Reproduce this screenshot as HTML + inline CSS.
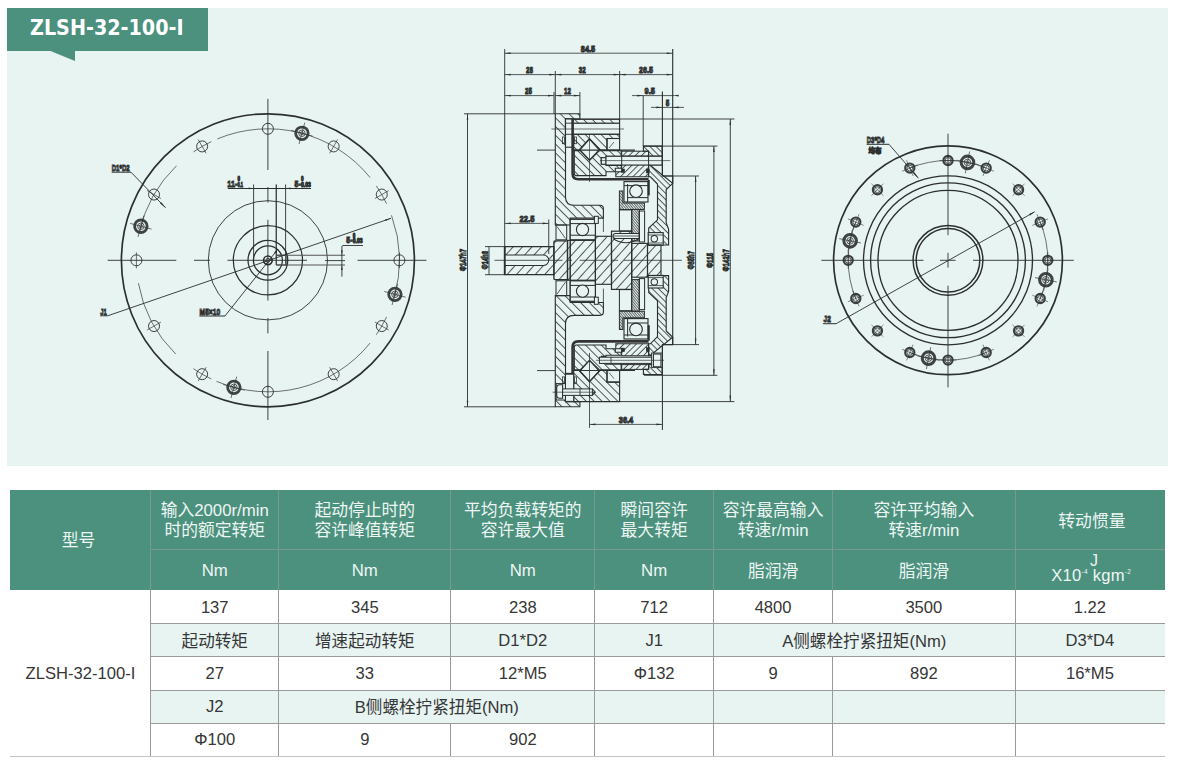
<!DOCTYPE html>
<html lang="zh">
<head>
<meta charset="utf-8">
<title>ZLSH-32-100-I</title>
<style>
html,body{margin:0;padding:0;background:#fff;}
body{width:1178px;height:768px;position:relative;overflow:hidden;font-family:"Liberation Sans","Noto Sans CJK SC",sans-serif;}
#panel{position:absolute;left:6.5px;top:8px;width:1161.5px;height:457.5px;background:#e7f4f2;}
#badge{position:absolute;left:6.5px;top:8px;width:201px;height:42.5px;background:#4b917e;}
#badge span{position:absolute;left:23.5px;top:7.4px;font-family:"DejaVu Sans Condensed","Liberation Sans",sans-serif;font-weight:bold;font-size:21.3px;line-height:26px;color:#fff;white-space:nowrap;letter-spacing:0px;}
#tail{position:absolute;left:48px;top:50px;width:0;height:0;border-top:11px solid #4b917e;border-left:27px solid transparent;}
#draw{position:absolute;left:0;top:0;width:1178px;height:768px;}
/* table */
#tbl{position:absolute;left:0;top:0;width:1178px;height:768px;font-size:16.6px;color:#363636;}
#tbl div{position:absolute;box-sizing:border-box;}
.hd{background:#4b917e;}
.c{line-height:19px;display:flex;align-items:center;justify-content:center;text-align:center;white-space:nowrap;}
.h{color:#eef6f3;line-height:20.3px;font-size:16.8px;}
.uj{position:absolute;left:75px;top:4.2px;font-size:16px;line-height:16px;}
.ux{position:absolute;left:36.3px;top:18px;font-size:16.6px;line-height:18px;white-space:nowrap;letter-spacing:0.25px;}
.ux sup{font-size:6.5px;vertical-align:7px;line-height:0;}
.mint{background:#e7f4f2;}
.vl{width:1px;background:#9a9a9a;}
.hl{height:1px;background:#9a9a9a;}
.vh{width:1px;background:#78998e;}
.hh{height:1px;background:#78998e;}
</style>
</head>
<body>
<div id="panel"></div>
<div id="badge"><span>ZLSH-32-100-I</span></div>
<div id="tail"></div>

<!--DRAWING-->
<svg id="draw" viewBox="0 0 1178 768" width="1178" height="768" fill="none" stroke="#2b2f2e" stroke-linecap="butt" font-family="'Liberation Sans',sans-serif">
<defs>
<pattern id="pa" patternUnits="userSpaceOnUse" width="6.2" height="6.2" patternTransform="rotate(45)"><line x1="0" y1="0.5" x2="6.2" y2="0.5" stroke="#2b2f2e" stroke-width="0.8"/></pattern>
<pattern id="paf" patternUnits="userSpaceOnUse" width="6.2" height="6.2" patternTransform="rotate(-45)"><line x1="0" y1="0.5" x2="6.2" y2="0.5" stroke="#2b2f2e" stroke-width="0.8"/></pattern>
<pattern id="pb" patternUnits="userSpaceOnUse" width="5.6" height="5.6" patternTransform="rotate(45)"><line x1="0" y1="0.5" x2="5.6" y2="0.5" stroke="#2b2f2e" stroke-width="0.8"/></pattern>
<pattern id="pbf" patternUnits="userSpaceOnUse" width="5.6" height="5.6" patternTransform="rotate(-45)"><line x1="0" y1="0.5" x2="5.6" y2="0.5" stroke="#2b2f2e" stroke-width="0.8"/></pattern>
<pattern id="pc" patternUnits="userSpaceOnUse" width="4.4" height="4.4" patternTransform="rotate(-45)"><line x1="0" y1="0.5" x2="4.4" y2="0.5" stroke="#2b2f2e" stroke-width="0.8"/></pattern>
<pattern id="pcf" patternUnits="userSpaceOnUse" width="4.4" height="4.4" patternTransform="rotate(45)"><line x1="0" y1="0.5" x2="4.4" y2="0.5" stroke="#2b2f2e" stroke-width="0.8"/></pattern>
<pattern id="pd" patternUnits="userSpaceOnUse" width="4.4" height="4.4" patternTransform="rotate(45)"><line x1="0" y1="0.5" x2="4.4" y2="0.5" stroke="#2b2f2e" stroke-width="0.8"/></pattern>
<pattern id="pdf" patternUnits="userSpaceOnUse" width="4.4" height="4.4" patternTransform="rotate(-45)"><line x1="0" y1="0.5" x2="4.4" y2="0.5" stroke="#2b2f2e" stroke-width="0.8"/></pattern>
<pattern id="pe" patternUnits="userSpaceOnUse" width="1.9" height="1.9" patternTransform="rotate(50)"><line x1="0" y1="0.5" x2="1.9" y2="0.5" stroke="#2b2f2e" stroke-width="0.7"/></pattern>
<pattern id="pef" patternUnits="userSpaceOnUse" width="1.9" height="1.9" patternTransform="rotate(-50)"><line x1="0" y1="0.5" x2="1.9" y2="0.5" stroke="#2b2f2e" stroke-width="0.7"/></pattern>
<pattern id="ps" patternUnits="userSpaceOnUse" width="7" height="7" patternTransform="rotate(-48)"><line x1="0" y1="0.5" x2="7" y2="0.5" stroke="#2b2f2e" stroke-width="0.8"/></pattern>
</defs>
<g id="left">
<circle cx="267.9" cy="260.3" r="146.5" stroke-width="1.68" />
<circle cx="267.9" cy="260.3" r="59.6" stroke-width="0.9" />
<circle cx="267.9" cy="260.3" r="34.6" stroke-width="1.23" />
<circle cx="267.9" cy="260.3" r="19.9" stroke-width="1.23" />
<circle cx="267.9" cy="260.3" r="14.5" stroke-width="1.23" />
<circle cx="267.9" cy="260.3" r="4.3" stroke-width="1.68" />
<circle cx="267.9" cy="260.3" r="2" stroke-width="0.9" />
<path d="M370.09 177.54A131.5 131.5 0 0 0 217.37 138.9" stroke-width="0.67"/>
<path d="M386.59 203.69A131.5 131.5 0 0 0 376.27 185.82" stroke-width="0.67"/>
<path d="M393.65 298.75A131.5 131.5 0 0 0 391.47 215.32" stroke-width="0.67"/>
<path d="M376.27 334.78A131.5 131.5 0 0 0 386.59 316.91" stroke-width="0.67"/>
<path d="M216.52 381.35A131.5 131.5 0 0 0 370.09 343.06" stroke-width="0.67"/>
<path d="M193.42 368.67A131.5 131.5 0 0 0 211.29 378.99" stroke-width="0.67"/>
<path d="M138.4 283.13A131.5 131.5 0 0 0 175.73 354.09" stroke-width="0.67"/>
<path d="M176.55 165.71A131.5 131.5 0 0 0 139.52 231.84" stroke-width="0.67"/>
<path d="M211.29 141.61A131.5 131.5 0 0 0 193.42 151.93" stroke-width="0.67"/>
<circle cx="399.4" cy="260.3" r="5.5" stroke-width="0.9" />
<line x1="399.4" y1="252.3" x2="399.4" y2="268.3" stroke-width="0.67" />
<circle cx="381.78" cy="194.55" r="5.5" stroke-width="0.9" />
<line x1="374.85" y1="198.55" x2="388.71" y2="190.55" stroke-width="0.67" />
<circle cx="333.65" cy="146.42" r="5.5" stroke-width="0.9" />
<line x1="329.65" y1="153.35" x2="337.65" y2="139.49" stroke-width="0.67" />
<circle cx="267.9" cy="128.8" r="5.5" stroke-width="0.9" />
<circle cx="202.15" cy="146.42" r="5.5" stroke-width="0.9" />
<line x1="206.15" y1="153.35" x2="198.15" y2="139.49" stroke-width="0.67" />
<circle cx="154.02" cy="194.55" r="5.5" stroke-width="0.9" />
<line x1="160.95" y1="198.55" x2="147.09" y2="190.55" stroke-width="0.67" />
<circle cx="136.4" cy="260.3" r="5.5" stroke-width="0.9" />
<line x1="136.4" y1="252.3" x2="136.4" y2="268.3" stroke-width="0.67" />
<circle cx="154.02" cy="326.05" r="5.5" stroke-width="0.9" />
<line x1="160.95" y1="322.05" x2="147.09" y2="330.05" stroke-width="0.67" />
<circle cx="202.15" cy="374.18" r="5.5" stroke-width="0.9" />
<line x1="206.15" y1="367.25" x2="198.15" y2="381.11" stroke-width="0.67" />
<circle cx="267.9" cy="391.8" r="5.5" stroke-width="0.9" />
<circle cx="333.65" cy="374.18" r="5.5" stroke-width="0.9" />
<line x1="329.65" y1="367.25" x2="337.65" y2="381.11" stroke-width="0.67" />
<circle cx="381.78" cy="326.05" r="5.5" stroke-width="0.9" />
<line x1="374.85" y1="322.05" x2="388.71" y2="330.05" stroke-width="0.67" />
<circle cx="301.93" cy="133.28" r="6.25" stroke-width="2.8" stroke="#3f4342"/>
<circle cx="301.93" cy="133.28" r="3.25" stroke-width="0.78" />
<circle cx="301.93" cy="133.28" r="1.6" stroke-width="0.67" />
<line x1="304.79" y1="122.61" x2="299.07" y2="143.95" stroke-width="0.67" />
<line x1="291.26" y1="130.42" x2="312.61" y2="136.14" stroke-width="0.67" />
<circle cx="140.88" cy="226.27" r="6.25" stroke-width="2.8" stroke="#3f4342"/>
<circle cx="140.88" cy="226.27" r="3.25" stroke-width="0.78" />
<circle cx="140.88" cy="226.27" r="1.6" stroke-width="0.67" />
<line x1="130.21" y1="223.41" x2="151.55" y2="229.13" stroke-width="0.67" />
<line x1="138.02" y1="236.94" x2="143.74" y2="215.59" stroke-width="0.67" />
<circle cx="233.87" cy="387.32" r="6.25" stroke-width="2.8" stroke="#3f4342"/>
<circle cx="233.87" cy="387.32" r="3.25" stroke-width="0.78" />
<circle cx="233.87" cy="387.32" r="1.6" stroke-width="0.67" />
<line x1="231.01" y1="397.99" x2="236.73" y2="376.65" stroke-width="0.67" />
<line x1="244.54" y1="390.18" x2="223.19" y2="384.46" stroke-width="0.67" />
<circle cx="394.92" cy="294.33" r="6.25" stroke-width="2.8" stroke="#3f4342"/>
<circle cx="394.92" cy="294.33" r="3.25" stroke-width="0.78" />
<circle cx="394.92" cy="294.33" r="1.6" stroke-width="0.67" />
<line x1="405.59" y1="297.19" x2="384.25" y2="291.47" stroke-width="0.67" />
<line x1="397.78" y1="283.66" x2="392.06" y2="305.01" stroke-width="0.67" />
<line x1="107.7" y1="260.3" x2="176.3" y2="260.3" stroke-width="0.9" />
<line x1="194" y1="260.3" x2="210" y2="260.3" stroke-width="0.9" />
<line x1="227.5" y1="260.3" x2="307" y2="260.3" stroke-width="0.9" />
<line x1="357.5" y1="260.3" x2="426.4" y2="260.3" stroke-width="0.9" />
<line x1="267.9" y1="98.9" x2="267.9" y2="170" stroke-width="0.9" />
<line x1="267.9" y1="187" x2="267.9" y2="202.5" stroke-width="0.9" />
<line x1="267.9" y1="219.8" x2="267.9" y2="300.6" stroke-width="0.9" />
<line x1="267.9" y1="318" x2="267.9" y2="333.4" stroke-width="0.9" />
<line x1="267.9" y1="351" x2="267.9" y2="420" stroke-width="0.9" />
<line x1="227.8" y1="188.4" x2="311" y2="188.4" stroke-width="1.01" />
<line x1="253.6" y1="184.5" x2="253.6" y2="260.3" stroke-width="0.9" />
<line x1="276.25" y1="184.5" x2="276.25" y2="265" stroke-width="1.23" />
<line x1="285.6" y1="184.5" x2="285.6" y2="265" stroke-width="0.9" />
<path d="M253.6 188.4L248.6 189.2L248.6 187.6Z" fill="#2b2f2e" stroke="none"/>
<path d="M285.6 188.4L290.6 187.6L290.6 189.2Z" fill="#2b2f2e" stroke="none"/>
<path d="M276.25 255.3H287V265H276.25" stroke-width="1.1"/>
<line x1="276.25" y1="255.3" x2="345" y2="255.3" stroke-width="1.12" stroke="#555"/>
<line x1="276.25" y1="265" x2="345" y2="265" stroke-width="1.12" stroke="#555"/>
<line x1="325" y1="260.6" x2="345" y2="260.6" stroke-width="0.9" />
<line x1="341.9" y1="246.25" x2="341.9" y2="276.7" stroke-width="0.9" />
<path d="M341.9 255.3L341.1 250.3L342.7 250.3Z" fill="#2b2f2e" stroke="none"/>
<path d="M341.9 265L342.7 270L341.1 270Z" fill="#2b2f2e" stroke="none"/>
<path d="M341.9 246.25L343 245.5H363" stroke-width="0.9"/>
<text x="227.3" y="186.6" font-size="9.2" text-anchor="start" textLength="10" lengthAdjust="spacingAndGlyphs" font-weight="bold" >11-</text>
<text x="237.5" y="181.2" font-size="7" text-anchor="start" textLength="2.6" lengthAdjust="spacingAndGlyphs" font-weight="bold" >0</text>
<text x="237.5" y="186.6" font-size="7" text-anchor="start" textLength="5.6" lengthAdjust="spacingAndGlyphs" font-weight="bold" >0.1</text>
<text x="294.5" y="186.6" font-size="9.2" text-anchor="start" textLength="6.2" lengthAdjust="spacingAndGlyphs" font-weight="bold" >5-</text>
<text x="300.9" y="181.2" font-size="7" text-anchor="start" textLength="2.6" lengthAdjust="spacingAndGlyphs" font-weight="bold" >0</text>
<text x="300.9" y="186.6" font-size="7" text-anchor="start" textLength="10" lengthAdjust="spacingAndGlyphs" font-weight="bold" >0.03</text>
<text x="346.3" y="243.3" font-size="9.2" text-anchor="start" textLength="6.2" lengthAdjust="spacingAndGlyphs" font-weight="bold" >5-</text>
<text x="352.7" y="237.9" font-size="7" text-anchor="start" textLength="2.6" lengthAdjust="spacingAndGlyphs" font-weight="bold" >0</text>
<text x="352.7" y="243.3" font-size="7" text-anchor="start" textLength="10" lengthAdjust="spacingAndGlyphs" font-weight="bold" >0.03</text>
<line x1="391" y1="218.3" x2="107.7" y2="315.8" stroke-width="0.9" />
<path d="M391 218.3L385.62 221.1L385.03 219.4Z" fill="#2b2f2e" stroke="none"/>
<line x1="100" y1="315.8" x2="107.7" y2="315.8" stroke-width="0.9" />
<text x="100.3" y="314.6" font-size="9.2" text-anchor="start" textLength="6.6" lengthAdjust="spacingAndGlyphs" font-weight="bold" >J1</text>
<line x1="111.7" y1="172.2" x2="131" y2="172.2" stroke-width="1.01" />
<line x1="131" y1="172.2" x2="165.6" y2="207.8" stroke-width="0.9" />
<path d="M165.6 207.8L160.08 203.41L161.37 202.15Z" fill="#2b2f2e" stroke="none"/>
<text x="111.7" y="170.8" font-size="9.2" text-anchor="start" textLength="18" lengthAdjust="spacingAndGlyphs" font-weight="bold" >D1*D2</text>
<line x1="278" y1="249" x2="225" y2="316" stroke-width="0.9" />
<path d="M278 249L275.6 253.48L274.19 252.36Z" fill="#2b2f2e" stroke="none"/>
<line x1="199.4" y1="316" x2="225" y2="316" stroke-width="1.01" />
<text x="199.6" y="314.7" font-size="9.2" text-anchor="start" textLength="20.5" lengthAdjust="spacingAndGlyphs" font-weight="bold" >M5×10</text>
</g>
<g id="mid">
<g id="up">
<path d="M555.3 113.8H579.9V119H565.5V197Q565.5 205.2 574 205.2H600Q603.4 205.2 603.4 208.5V218.1H570.2V225H555.3Z" stroke-width="1.12" fill="url(#pa)" />
<line x1="603.4" y1="218.1" x2="603.4" y2="232" stroke-width="0.78" />
<rect x="556" y="225" width="10.7" height="14.8" stroke-width="1.01" fill="none" />
<line x1="557" y1="226.5" x2="565.5" y2="238.5" stroke-width="0.78" />
<line x1="570.2" y1="225" x2="570.2" y2="239.8" stroke-width="1.01" />
<rect x="570.2" y="219.3" width="25.2" height="20.5" stroke-width="1.23" fill="#e7f4f2" />
<line x1="570.2" y1="223.6" x2="595.4" y2="223.6" stroke-width="1.01" />
<line x1="570.2" y1="235.2" x2="595.4" y2="235.2" stroke-width="1.01" />
<circle cx="582.5" cy="229.5" r="6.1" stroke-width="1.12" fill="#e7f4f2"/>
<rect x="594.4" y="216.3" width="3.9" height="7.1" stroke-width="1.01" fill="#e7f4f2" />
<rect x="565.5" y="119" width="54.1" height="15.3" stroke-width="1.12" fill="none" />
<rect x="572.9" y="119.4" width="46.7" height="3.8" stroke-width="0.78" fill="url(#pa)" />
<line x1="572.9" y1="123.2" x2="619.6" y2="123.2" stroke-width="0.9" />
<path d="M573.7 134.3H619.6V138.5H607V150.1H599.5L589.5 139.2L579.6 150.1H573.7Z" stroke-width="1.12" fill="url(#pb)" />
<rect x="565.5" y="119" width="7.4" height="28.2" stroke-width="1.12" fill="#e7f4f2" />
<rect x="562.6" y="137" width="1.8" height="6.7" stroke-width="0.78" fill="none" />
<rect x="574.3" y="137" width="2.1" height="6.7" stroke-width="0.78" fill="none" />
<rect x="607" y="138.5" width="12.6" height="11.6" stroke-width="1.12" fill="none" />
<line x1="609" y1="148" x2="614" y2="142" stroke-width="0.67" />
<path d="M589.5 138.6L599.5 149.3L589.5 160.1L579.6 149.3Z" stroke-width="1.01" fill="none" />
<line x1="573" y1="150.1" x2="635" y2="150.1" stroke-width="1.12" />
<path d="M574.3 150.7H580.2L589.5 160.4L599.5 150.7H621.2V156.3H606V157.7H601.3V164.2H606V165.4H621.2V168.3H615.3V171.8H606V175.6H576.5Q574.3 175.6 574.3 173.4Z" stroke-width="1.12" fill="url(#pb)" />
<path d="M572.6 119V173.5Q572.6 179.2 578.3 179.2H648.6" stroke-width="2.58" fill="none" stroke="#333"/>
<rect x="621.7" y="151.2" width="26.9" height="4.8" stroke-width="1.01" fill="url(#pc)" />
<path d="M621.7 164.8H648.6V176.8H615.8V171.8H621.7Z" stroke-width="1.01" fill="url(#pc)" />
<rect x="621.7" y="169" width="2.9" height="3.5" stroke-width="0.56" fill="#2b2f2e" />
<rect x="646.3" y="169" width="2.9" height="4" stroke-width="0.56" fill="#2b2f2e" />
<rect x="624" y="181.6" width="24" height="20.4" stroke-width="1.12" fill="#e7f4f2" />
<line x1="624" y1="185.6" x2="648" y2="185.6" stroke-width="1.01" />
<line x1="627.6" y1="197.6" x2="648" y2="197.6" stroke-width="1.01" />
<line x1="627.6" y1="184" x2="627.6" y2="202" stroke-width="1.01" />
<circle cx="636" cy="191.2" r="6.3" stroke-width="1.12" fill="#e7f4f2"/>
<line x1="648.7" y1="180" x2="648.7" y2="195.4" stroke-width="2.13" />
<path d="M619.4 191H622.9V202.9H644.4V209.4H619.4Z" stroke-width="1.01" fill="url(#pe)" />
<rect x="631.7" y="209.4" width="7.6" height="31.6" stroke-width="1.01" fill="url(#pe)" />
<rect x="619.4" y="209.9" width="12.3" height="21.1" stroke-width="1.01" fill="none" />
<rect x="639.3" y="211" width="5.3" height="31" stroke-width="1.01" fill="none" />
<path d="M648.6 165H650L672.7 183.3L666.2 189.6V223L668.6 229.2V245H648.7V228L657.5 219.8V184L650.4 176.8H648.6Z" stroke-width="1.12" fill="url(#pd)" />
<path d="M650 165H662.4V176H672.7V183.3" stroke-width="1.12" fill="none" />
<path d="M643.4 146.1H662.1V156H648.6V151.3H643.4Z" stroke-width="1.12" fill="url(#pd)" />
<rect x="648.2" y="232.6" width="15" height="12.6" stroke-width="1.12" fill="#e7f4f2" />
<circle cx="654.3" cy="238.7" r="3.2" stroke-width="1.01" />
<line x1="648.2" y1="235" x2="663.2" y2="235" stroke-width="0.78" />
<line x1="648.2" y1="243" x2="663.2" y2="243" stroke-width="0.78" />
</g>
<g id="dn" transform="matrix(1 0 0 -1 0 520.6)">
<path d="M555.3 113.8H579.9V119H565.5V197Q565.5 205.2 574 205.2H600Q603.4 205.2 603.4 208.5V218.1H570.2V225H555.3Z" stroke-width="1.12" fill="url(#paf)" />
<line x1="603.4" y1="218.1" x2="603.4" y2="232" stroke-width="0.78" />
<rect x="556" y="225" width="10.7" height="14.8" stroke-width="1.01" fill="none" />
<line x1="557" y1="226.5" x2="565.5" y2="238.5" stroke-width="0.78" />
<line x1="570.2" y1="225" x2="570.2" y2="239.8" stroke-width="1.01" />
<rect x="570.2" y="219.3" width="25.2" height="20.5" stroke-width="1.23" fill="#e7f4f2" />
<line x1="570.2" y1="223.6" x2="595.4" y2="223.6" stroke-width="1.01" />
<line x1="570.2" y1="235.2" x2="595.4" y2="235.2" stroke-width="1.01" />
<circle cx="582.5" cy="229.5" r="6.1" stroke-width="1.12" fill="#e7f4f2"/>
<rect x="594.4" y="216.3" width="3.9" height="7.1" stroke-width="1.01" fill="#e7f4f2" />
<path d="M573.7 119H619.6V138.5H607V150.1H599.5L589.5 139.2L579.6 150.1H573.7Z" stroke-width="1.12" fill="url(#pbf)" />
<rect x="556.2" y="120.6" width="9.3" height="16.4" stroke-width="1.01" fill="#e7f4f2" />
<rect x="565.5" y="119" width="7.4" height="28.2" stroke-width="1.12" fill="#e7f4f2" />
<rect x="562.6" y="137" width="1.8" height="6.7" stroke-width="0.78" fill="none" />
<rect x="574.3" y="137" width="2.1" height="6.7" stroke-width="0.78" fill="none" />
<rect x="607" y="138.5" width="12.6" height="11.6" stroke-width="1.12" fill="none" />
<line x1="609" y1="148" x2="614" y2="142" stroke-width="0.67" />
<path d="M589.5 138.6L599.5 149.3L589.5 160.1L579.6 149.3Z" stroke-width="1.01" fill="none" />
<line x1="573" y1="150.1" x2="635" y2="150.1" stroke-width="1.12" />
<path d="M574.3 150.7H580.2L589.5 160.4L599.5 150.7H621.2V156.3H606V157.7H601.3V164.2H606V165.4H621.2V168.3H615.3V171.8H606V175.6H576.5Q574.3 175.6 574.3 173.4Z" stroke-width="1.12" fill="url(#pbf)" />
<path d="M572.6 119V173.5Q572.6 179.2 578.3 179.2H648.6" stroke-width="2.58" fill="none" stroke="#333"/>
<rect x="621.7" y="151.2" width="26.9" height="4.8" stroke-width="1.01" fill="url(#pcf)" />
<path d="M621.7 164.8H648.6V176.8H615.8V171.8H621.7Z" stroke-width="1.01" fill="url(#pcf)" />
<rect x="621.7" y="169" width="2.9" height="3.5" stroke-width="0.56" fill="#2b2f2e" />
<rect x="646.3" y="169" width="2.9" height="4" stroke-width="0.56" fill="#2b2f2e" />
<rect x="624" y="181.6" width="24" height="20.4" stroke-width="1.12" fill="#e7f4f2" />
<line x1="624" y1="185.6" x2="648" y2="185.6" stroke-width="1.01" />
<line x1="627.6" y1="197.6" x2="648" y2="197.6" stroke-width="1.01" />
<line x1="627.6" y1="184" x2="627.6" y2="202" stroke-width="1.01" />
<circle cx="636" cy="191.2" r="6.3" stroke-width="1.12" fill="#e7f4f2"/>
<line x1="648.7" y1="180" x2="648.7" y2="195.4" stroke-width="2.13" />
<path d="M619.4 191H622.9V202.9H644.4V209.4H619.4Z" stroke-width="1.01" fill="url(#pef)" />
<rect x="631.7" y="209.4" width="7.6" height="31.6" stroke-width="1.01" fill="url(#pef)" />
<rect x="619.4" y="209.9" width="12.3" height="21.1" stroke-width="1.01" fill="none" />
<rect x="639.3" y="211" width="5.3" height="31" stroke-width="1.01" fill="none" />
<path d="M648.6 165H650L672.7 183.3L666.2 189.6V223L668.6 229.2V245H648.7V228L657.5 219.8V184L650.4 176.8H648.6Z" stroke-width="1.12" fill="url(#pdf)" />
<path d="M650 165H662.4V176H672.7V183.3" stroke-width="1.12" fill="none" />
<path d="M643.4 146.1H662.1V156H648.6V151.3H643.4Z" stroke-width="1.12" fill="url(#pdf)" />
<rect x="648.2" y="232.6" width="15" height="12.6" stroke-width="1.12" fill="#e7f4f2" />
<circle cx="654.3" cy="238.7" r="3.2" stroke-width="1.01" />
<line x1="648.2" y1="235" x2="663.2" y2="235" stroke-width="0.78" />
<line x1="648.2" y1="243" x2="663.2" y2="243" stroke-width="0.78" />
</g>
<path d="M504.7 246.6H553.9V274.7H504.7Z" stroke-width="1.23" fill="url(#ps)" />
<path d="M504.7 255.1H543.6A5.1 5.1 0 0 1 543.6 265.4H504.7Z" stroke-width="1.01" fill="#e7f4f2" />
<line x1="504.7" y1="246.6" x2="504.7" y2="274.7" stroke-width="1.79" />
<path d="M555 240.9H567.5V279.7H555Q553.9 279.7 553.9 278.6V242Q553.9 240.9 555 240.9Z" stroke-width="1.34" fill="url(#ps)" />
<rect x="567.5" y="240.4" width="27.9" height="39.8" stroke-width="1.12" fill="url(#ps)" />
<rect x="595.4" y="236.3" width="16.1" height="48" stroke-width="1.12" fill="url(#ps)" />
<rect x="611.5" y="231.2" width="20.2" height="58.2" stroke-width="1.23" fill="url(#ps)" />
<rect x="631.7" y="243.4" width="15.8" height="33.8" stroke-width="1.12" fill="url(#ps)" />
<rect x="647.5" y="245" width="13.5" height="30.6" stroke-width="1.12" fill="url(#ps)" />
<line x1="570.2" y1="240" x2="570.2" y2="280.6" stroke-width="1.46" />
<path d="M615.5 233.4H639V238.6H615.5A2.6 2.6 0 0 1 615.5 233.4Z" stroke-width="1.01" fill="#e7f4f2" />
<path d="M613 238.6Q626 247 639 238.6" stroke-width="1.01" fill="none" />
<line x1="613" y1="236" x2="639" y2="236" stroke-width="0.78" />
<line x1="494.5" y1="260.3" x2="562.5" y2="260.3" stroke-width="0.78" />
<line x1="568" y1="260.3" x2="572" y2="260.3" stroke-width="0.78" />
<line x1="579.6" y1="260.3" x2="606.7" y2="260.3" stroke-width="0.78" />
<line x1="612" y1="260.3" x2="618" y2="260.3" stroke-width="0.78" />
<line x1="624" y1="260.3" x2="681.9" y2="260.3" stroke-width="0.78" />
<rect x="601.3" y="157.7" width="4.7" height="6.5" stroke-width="1.01" fill="#e7f4f2" />
<rect x="606" y="156.3" width="56.1" height="8.7" stroke-width="1.01" fill="#e7f4f2" />
<line x1="621.7" y1="156.3" x2="621.7" y2="165" stroke-width="1.01" />
<line x1="648.6" y1="156.3" x2="648.6" y2="165" stroke-width="1.01" />
<line x1="600" y1="160.6" x2="670.3" y2="160.6" stroke-width="0.67" />
<rect x="599.4" y="357.2" width="54" height="6.2" stroke-width="1.01" fill="#e7f4f2" />
<rect x="651.6" y="353" width="10.8" height="14.6" stroke-width="0.9" fill="#e7f4f2" />
<rect x="653.4" y="354" width="7.6" height="12.8" stroke-width="1.12" fill="#e7f4f2" />
<line x1="611" y1="357.2" x2="611" y2="363.4" stroke-width="0.9" />
<line x1="596" y1="360.3" x2="664" y2="360.3" stroke-width="0.67" />
<rect x="565.5" y="374.2" width="8.2" height="27.2" stroke-width="1.01" fill="#e7f4f2" />
<path d="M562.6 384.8H559.5Q556.7 384.8 556.7 388V395Q556.7 398.2 559.5 398.2H562.6Z" stroke-width="1.12" fill="#e7f4f2" />
<rect x="562.6" y="388.9" width="29.8" height="6.5" stroke-width="1.01" fill="#e7f4f2" />
<path d="M592.4 388.9L595.2 392.2L592.4 395.4" stroke-width="1.01" fill="none" />
<line x1="580" y1="388.9" x2="580" y2="395.4" stroke-width="0.9" />
<line x1="552.5" y1="392.2" x2="596" y2="392.2" stroke-width="0.67" />
<line x1="551.4" y1="129" x2="624" y2="129" stroke-width="0.67" />
<line x1="565.5" y1="123.2" x2="572.9" y2="123.2" stroke-width="0.9" />
<line x1="565.5" y1="134.3" x2="572.9" y2="134.3" stroke-width="0.9" />
<line x1="504.7" y1="49" x2="504.7" y2="246.6" stroke-width="0.9" />
<line x1="672.7" y1="49" x2="672.7" y2="345" stroke-width="1.12" />
<line x1="504.7" y1="53.2" x2="672.7" y2="53.2" stroke-width="0.78" />
<path d="M504.7 53.2L510.7 52.4L510.7 54Z" fill="#2b2f2e" stroke="none"/>
<path d="M672.7 53.2L666.7 54L666.7 52.4Z" fill="#2b2f2e" stroke="none"/>
<text x="588" y="51.6" font-size="9.2" text-anchor="middle" textLength="14.5" lengthAdjust="spacingAndGlyphs" font-weight="bold" >84.5</text>
<line x1="555.3" y1="71" x2="555.3" y2="113.8" stroke-width="0.9" />
<line x1="619.6" y1="71" x2="619.6" y2="119" stroke-width="0.9" />
<line x1="504.7" y1="74.6" x2="555.3" y2="74.6" stroke-width="0.78" />
<path d="M504.7 74.6L510.7 73.8L510.7 75.4Z" fill="#2b2f2e" stroke="none"/>
<path d="M555.3 74.6L549.3 75.4L549.3 73.8Z" fill="#2b2f2e" stroke="none"/>
<text x="529.5" y="73" font-size="9.2" text-anchor="middle" textLength="7" lengthAdjust="spacingAndGlyphs" font-weight="bold" >28</text>
<line x1="555.3" y1="74.6" x2="619.6" y2="74.6" stroke-width="0.78" />
<path d="M555.3 74.6L561.3 73.8L561.3 75.4Z" fill="#2b2f2e" stroke="none"/>
<path d="M619.6 74.6L613.6 75.4L613.6 73.8Z" fill="#2b2f2e" stroke="none"/>
<text x="582.3" y="73" font-size="9.2" text-anchor="middle" textLength="7" lengthAdjust="spacingAndGlyphs" font-weight="bold" >32</text>
<line x1="619.6" y1="74.6" x2="672.7" y2="74.6" stroke-width="0.78" />
<path d="M619.6 74.6L625.6 73.8L625.6 75.4Z" fill="#2b2f2e" stroke="none"/>
<path d="M672.7 74.6L666.7 75.4L666.7 73.8Z" fill="#2b2f2e" stroke="none"/>
<text x="646" y="73" font-size="9.2" text-anchor="middle" textLength="14" lengthAdjust="spacingAndGlyphs" font-weight="bold" >26.5</text>
<line x1="554" y1="92" x2="554" y2="113.8" stroke-width="0.9" />
<line x1="579.9" y1="92" x2="579.9" y2="113.8" stroke-width="0.9" />
<line x1="504.7" y1="95.6" x2="554" y2="95.6" stroke-width="0.78" />
<path d="M504.7 95.6L510.7 94.8L510.7 96.4Z" fill="#2b2f2e" stroke="none"/>
<path d="M554 95.6L548 96.4L548 94.8Z" fill="#2b2f2e" stroke="none"/>
<text x="528.5" y="94" font-size="9.2" text-anchor="middle" textLength="7" lengthAdjust="spacingAndGlyphs" font-weight="bold" >25</text>
<line x1="555.3" y1="95.6" x2="579.9" y2="95.6" stroke-width="0.78" />
<path d="M555.3 95.6L561.3 94.8L561.3 96.4Z" fill="#2b2f2e" stroke="none"/>
<path d="M579.9 95.6L573.9 96.4L573.9 94.8Z" fill="#2b2f2e" stroke="none"/>
<text x="567.5" y="94" font-size="9.2" text-anchor="middle" textLength="7" lengthAdjust="spacingAndGlyphs" font-weight="bold" >12</text>
<line x1="643.2" y1="95.6" x2="643.2" y2="146.1" stroke-width="0.9" />
<line x1="662.4" y1="91.5" x2="662.4" y2="176" stroke-width="1.12" />
<line x1="632" y1="95.6" x2="674" y2="95.6" stroke-width="0.78" />
<path d="M643.2 95.6L637.2 96.4L637.2 94.8Z" fill="#2b2f2e" stroke="none"/>
<path d="M672.7 95.6L678.7 94.8L678.7 96.4Z" fill="#2b2f2e" stroke="none"/>
<text x="649.8" y="94" font-size="9.2" text-anchor="middle" textLength="10.5" lengthAdjust="spacingAndGlyphs" font-weight="bold" >9.5</text>
<line x1="651" y1="107.4" x2="684" y2="107.4" stroke-width="0.78" />
<path d="M662.4 107.4L656.4 108.2L656.4 106.6Z" fill="#2b2f2e" stroke="none"/>
<path d="M672.7 107.4L678.7 106.6L678.7 108.2Z" fill="#2b2f2e" stroke="none"/>
<text x="667.5" y="105.6" font-size="9.2" text-anchor="middle" textLength="3.6" lengthAdjust="spacingAndGlyphs" font-weight="bold" >5</text>
<line x1="662.4" y1="345" x2="662.4" y2="430" stroke-width="1.01" />
<line x1="464" y1="113.8" x2="555.3" y2="113.8" stroke-width="0.9" />
<line x1="464" y1="406.8" x2="555.3" y2="406.8" stroke-width="0.9" />
<line x1="467.5" y1="113.8" x2="467.5" y2="406.8" stroke-width="0.9" />
<path d="M467.5 113.8L468.3 119.8L466.7 119.8Z" fill="#2b2f2e" stroke="none"/>
<path d="M467.5 406.8L466.7 400.8L468.3 400.8Z" fill="#2b2f2e" stroke="none"/>
<line x1="537" y1="150.1" x2="555.3" y2="150.1" stroke-width="0.9" />
<line x1="537" y1="370.6" x2="555.3" y2="370.6" stroke-width="0.9" />
<line x1="485" y1="246.6" x2="504.7" y2="246.6" stroke-width="0.9" />
<line x1="485" y1="274.7" x2="504.7" y2="274.7" stroke-width="0.9" />
<line x1="489" y1="246.6" x2="489" y2="274.7" stroke-width="0.9" />
<line x1="548.75" y1="219.5" x2="548.75" y2="254" stroke-width="0.9" />
<line x1="504.7" y1="223.4" x2="548.75" y2="223.4" stroke-width="0.78" />
<path d="M504.7 223.4L510.7 222.6L510.7 224.2Z" fill="#2b2f2e" stroke="none"/>
<path d="M548.75 223.4L542.75 224.2L542.75 222.6Z" fill="#2b2f2e" stroke="none"/>
<text x="527" y="221.8" font-size="9.2" text-anchor="middle" textLength="15" lengthAdjust="spacingAndGlyphs" font-weight="bold" >22.5</text>
<text transform="translate(466.2 260) rotate(-90)" font-size="9.2" font-weight="bold" text-anchor="middle" textLength="21.9" lengthAdjust="spacingAndGlyphs">Φ147h7</text>
<text transform="translate(487.6 260) rotate(-90)" font-size="9.2" font-weight="bold" text-anchor="middle" textLength="18.3" lengthAdjust="spacingAndGlyphs">Φ14h6</text>
<line x1="619.6" y1="119" x2="734.4" y2="119" stroke-width="0.9" />
<line x1="619.6" y1="401.6" x2="734.4" y2="401.6" stroke-width="0.9" />
<line x1="730.3" y1="119" x2="730.3" y2="401.6" stroke-width="0.9" />
<path d="M730.3 119L731.1 125L729.5 125Z" fill="#2b2f2e" stroke="none"/>
<path d="M730.3 401.6L729.5 395.6L731.1 395.6Z" fill="#2b2f2e" stroke="none"/>
<line x1="643.4" y1="146.1" x2="717.4" y2="146.1" stroke-width="0.9" />
<line x1="644" y1="375.3" x2="717.4" y2="375.3" stroke-width="0.9" />
<line x1="713.9" y1="146.1" x2="713.9" y2="375.3" stroke-width="0.9" />
<path d="M713.9 146.1L714.7 152.1L713.1 152.1Z" fill="#2b2f2e" stroke="none"/>
<path d="M713.9 375.3L713.1 369.3L714.7 369.3Z" fill="#2b2f2e" stroke="none"/>
<line x1="662.4" y1="176" x2="699" y2="176" stroke-width="0.9" />
<line x1="662.4" y1="344.6" x2="699" y2="344.6" stroke-width="0.9" />
<line x1="695.6" y1="176" x2="695.6" y2="344.6" stroke-width="0.9" />
<path d="M695.6 176L696.4 182L694.8 182Z" fill="#2b2f2e" stroke="none"/>
<path d="M695.6 344.6L694.8 338.6L696.4 338.6Z" fill="#2b2f2e" stroke="none"/>
<text transform="translate(694.4 260.2) rotate(-90)" font-size="9.2" font-weight="bold" text-anchor="middle" textLength="18.3" lengthAdjust="spacingAndGlyphs">Φ85h7</text>
<text transform="translate(712.6 260.2) rotate(-90)" font-size="9.2" font-weight="bold" text-anchor="middle" textLength="15" lengthAdjust="spacingAndGlyphs">Φ115</text>
<text transform="translate(729 260.2) rotate(-90)" font-size="9.2" font-weight="bold" text-anchor="middle" textLength="21.9" lengthAdjust="spacingAndGlyphs">Φ142h7</text>
<line x1="589.5" y1="353" x2="589.5" y2="428" stroke-width="0.78" />
<line x1="589.5" y1="424.4" x2="662.4" y2="424.4" stroke-width="0.78" />
<path d="M589.5 424.4L595.5 423.6L595.5 425.2Z" fill="#2b2f2e" stroke="none"/>
<path d="M662.4 424.4L656.4 425.2L656.4 423.6Z" fill="#2b2f2e" stroke="none"/>
<text x="626" y="422.8" font-size="9.2" text-anchor="middle" textLength="14.5" lengthAdjust="spacingAndGlyphs" font-weight="bold" >36.4</text>
<line x1="589.5" y1="134" x2="589.5" y2="182" stroke-width="0.67" />
</g>
<!--MID-->
<g id="right">
<circle cx="948" cy="260.3" r="114.4" stroke-width="1.68" />
<circle cx="948" cy="260.3" r="84.5" stroke-width="1.34" />
<circle cx="948" cy="260.3" r="77.4" stroke-width="1.34" />
<circle cx="948" cy="260.3" r="70" stroke-width="1.34" />
<circle cx="948" cy="260.3" r="34.9" stroke-width="1.46" />
<circle cx="948" cy="260.3" r="31.8" stroke-width="1.46" />
<path d="M986.19 168.1A99.8 99.8 0 0 0 909.81 168.1" stroke-width="0.67"/>
<path d="M1040.2 298.49A99.8 99.8 0 0 0 1040.2 222.11" stroke-width="0.67"/>
<path d="M909.81 352.5A99.8 99.8 0 0 0 986.19 352.5" stroke-width="0.67"/>
<path d="M855.8 222.11A99.8 99.8 0 0 0 855.8 298.49" stroke-width="0.67"/>
<circle cx="1047.8" cy="260.3" r="4.6" stroke-width="2.13" stroke="#3a3e3d"/>
<circle cx="1047.8" cy="260.3" r="2.9" stroke-width="0.78" />
<line x1="1047.8" y1="251.8" x2="1047.8" y2="268.8" stroke-width="0.56" />
<circle cx="1040.2" cy="222.11" r="4.6" stroke-width="2.13" stroke="#3a3e3d"/>
<circle cx="1040.2" cy="222.11" r="2.9" stroke-width="0.78" />
<line x1="1048.06" y1="218.86" x2="1032.35" y2="225.36" stroke-width="0.56" />
<line x1="1036.95" y1="214.26" x2="1043.46" y2="229.96" stroke-width="0.56" />
<circle cx="1018.57" cy="189.73" r="4.6" stroke-width="2.13" stroke="#3a3e3d"/>
<circle cx="1018.57" cy="189.73" r="2.9" stroke-width="0.78" />
<line x1="1024.58" y1="183.72" x2="1012.56" y2="195.74" stroke-width="0.56" />
<line x1="1012.56" y1="183.72" x2="1024.58" y2="195.74" stroke-width="0.56" />
<circle cx="986.19" cy="168.1" r="4.6" stroke-width="2.13" stroke="#3a3e3d"/>
<circle cx="986.19" cy="168.1" r="2.9" stroke-width="0.78" />
<line x1="989.44" y1="160.24" x2="982.94" y2="175.95" stroke-width="0.56" />
<line x1="978.34" y1="164.84" x2="994.04" y2="171.35" stroke-width="0.56" />
<circle cx="948" cy="160.5" r="4.6" stroke-width="2.13" stroke="#3a3e3d"/>
<circle cx="948" cy="160.5" r="2.9" stroke-width="0.78" />
<line x1="939.5" y1="160.5" x2="956.5" y2="160.5" stroke-width="0.56" />
<circle cx="909.81" cy="168.1" r="4.6" stroke-width="2.13" stroke="#3a3e3d"/>
<circle cx="909.81" cy="168.1" r="2.9" stroke-width="0.78" />
<line x1="906.56" y1="160.24" x2="913.06" y2="175.95" stroke-width="0.56" />
<line x1="901.96" y1="171.35" x2="917.66" y2="164.84" stroke-width="0.56" />
<circle cx="877.43" cy="189.73" r="4.6" stroke-width="2.13" stroke="#3a3e3d"/>
<circle cx="877.43" cy="189.73" r="2.9" stroke-width="0.78" />
<line x1="871.42" y1="183.72" x2="883.44" y2="195.74" stroke-width="0.56" />
<line x1="871.42" y1="195.74" x2="883.44" y2="183.72" stroke-width="0.56" />
<circle cx="855.8" cy="222.11" r="4.6" stroke-width="2.13" stroke="#3a3e3d"/>
<circle cx="855.8" cy="222.11" r="2.9" stroke-width="0.78" />
<line x1="847.94" y1="218.86" x2="863.65" y2="225.36" stroke-width="0.56" />
<line x1="852.54" y1="229.96" x2="859.05" y2="214.26" stroke-width="0.56" />
<circle cx="848.2" cy="260.3" r="4.6" stroke-width="2.13" stroke="#3a3e3d"/>
<circle cx="848.2" cy="260.3" r="2.9" stroke-width="0.78" />
<line x1="848.2" y1="268.8" x2="848.2" y2="251.8" stroke-width="0.56" />
<circle cx="855.8" cy="298.49" r="4.6" stroke-width="2.13" stroke="#3a3e3d"/>
<circle cx="855.8" cy="298.49" r="2.9" stroke-width="0.78" />
<line x1="847.94" y1="301.74" x2="863.65" y2="295.24" stroke-width="0.56" />
<line x1="859.05" y1="306.34" x2="852.54" y2="290.64" stroke-width="0.56" />
<circle cx="877.43" cy="330.87" r="4.6" stroke-width="2.13" stroke="#3a3e3d"/>
<circle cx="877.43" cy="330.87" r="2.9" stroke-width="0.78" />
<line x1="871.42" y1="336.88" x2="883.44" y2="324.86" stroke-width="0.56" />
<line x1="883.44" y1="336.88" x2="871.42" y2="324.86" stroke-width="0.56" />
<circle cx="909.81" cy="352.5" r="4.6" stroke-width="2.13" stroke="#3a3e3d"/>
<circle cx="909.81" cy="352.5" r="2.9" stroke-width="0.78" />
<line x1="906.56" y1="360.36" x2="913.06" y2="344.65" stroke-width="0.56" />
<line x1="917.66" y1="355.76" x2="901.96" y2="349.25" stroke-width="0.56" />
<circle cx="948" cy="360.1" r="4.6" stroke-width="2.13" stroke="#3a3e3d"/>
<circle cx="948" cy="360.1" r="2.9" stroke-width="0.78" />
<line x1="956.5" y1="360.1" x2="939.5" y2="360.1" stroke-width="0.56" />
<circle cx="986.19" cy="352.5" r="4.6" stroke-width="2.13" stroke="#3a3e3d"/>
<circle cx="986.19" cy="352.5" r="2.9" stroke-width="0.78" />
<line x1="989.44" y1="360.36" x2="982.94" y2="344.65" stroke-width="0.56" />
<line x1="994.04" y1="349.25" x2="978.34" y2="355.76" stroke-width="0.56" />
<circle cx="1018.57" cy="330.87" r="4.6" stroke-width="2.13" stroke="#3a3e3d"/>
<circle cx="1018.57" cy="330.87" r="2.9" stroke-width="0.78" />
<line x1="1024.58" y1="336.88" x2="1012.56" y2="324.86" stroke-width="0.56" />
<line x1="1024.58" y1="324.86" x2="1012.56" y2="336.88" stroke-width="0.56" />
<circle cx="1040.2" cy="298.49" r="4.6" stroke-width="2.13" stroke="#3a3e3d"/>
<circle cx="1040.2" cy="298.49" r="2.9" stroke-width="0.78" />
<line x1="1048.06" y1="301.74" x2="1032.35" y2="295.24" stroke-width="0.56" />
<line x1="1043.46" y1="290.64" x2="1036.95" y2="306.34" stroke-width="0.56" />
<circle cx="967.47" cy="162.42" r="6.3" stroke-width="3.02" stroke="#3f4342"/>
<circle cx="967.47" cy="162.42" r="3.3" stroke-width="0.78" />
<circle cx="967.47" cy="162.42" r="1.6" stroke-width="0.67" />
<line x1="969.64" y1="151.53" x2="965.3" y2="173.3" stroke-width="0.67" />
<line x1="956.58" y1="160.25" x2="978.36" y2="164.58" stroke-width="0.67" />
<circle cx="850.12" cy="240.83" r="6.3" stroke-width="3.02" stroke="#3f4342"/>
<circle cx="850.12" cy="240.83" r="3.3" stroke-width="0.78" />
<circle cx="850.12" cy="240.83" r="1.6" stroke-width="0.67" />
<line x1="839.23" y1="238.66" x2="861" y2="243" stroke-width="0.67" />
<line x1="847.95" y1="251.72" x2="852.28" y2="229.94" stroke-width="0.67" />
<circle cx="928.53" cy="358.18" r="6.3" stroke-width="3.02" stroke="#3f4342"/>
<circle cx="928.53" cy="358.18" r="3.3" stroke-width="0.78" />
<circle cx="928.53" cy="358.18" r="1.6" stroke-width="0.67" />
<line x1="926.36" y1="369.07" x2="930.7" y2="347.3" stroke-width="0.67" />
<line x1="939.42" y1="360.35" x2="917.64" y2="356.02" stroke-width="0.67" />
<circle cx="1045.88" cy="279.77" r="6.3" stroke-width="3.02" stroke="#3f4342"/>
<circle cx="1045.88" cy="279.77" r="3.3" stroke-width="0.78" />
<circle cx="1045.88" cy="279.77" r="1.6" stroke-width="0.67" />
<line x1="1056.77" y1="281.94" x2="1035" y2="277.6" stroke-width="0.67" />
<line x1="1048.05" y1="268.88" x2="1043.72" y2="290.66" stroke-width="0.67" />
<line x1="821.4" y1="260.3" x2="923.5" y2="260.3" stroke-width="0.9" />
<line x1="940" y1="260.3" x2="955.6" y2="260.3" stroke-width="0.9" />
<line x1="973" y1="260.3" x2="1073.8" y2="260.3" stroke-width="0.9" />
<line x1="948" y1="133.7" x2="948" y2="235.2" stroke-width="0.9" />
<line x1="948" y1="252.8" x2="948" y2="267.6" stroke-width="0.9" />
<line x1="948" y1="285.7" x2="948" y2="387.4" stroke-width="0.9" />
<line x1="1034.7" y1="211.8" x2="836.1" y2="323.7" stroke-width="0.9" />
<path d="M1034.7 211.8L1029.91 215.53L1029.03 213.96Z" fill="#2b2f2e" stroke="none"/>
<line x1="823" y1="323.7" x2="836.1" y2="323.7" stroke-width="1.01" />
<text x="823.6" y="322.4" font-size="9.2" text-anchor="start" textLength="7.4" lengthAdjust="spacingAndGlyphs" font-weight="bold" >J2</text>
<line x1="866.6" y1="144.3" x2="889" y2="144.3" stroke-width="1.01" />
<line x1="889" y1="144.3" x2="918.4" y2="178.2" stroke-width="0.9" />
<path d="M918.4 178.2L913.13 173.5L914.49 172.32Z" fill="#2b2f2e" stroke="none"/>
<text x="866.8" y="143.2" font-size="9.2" text-anchor="start" textLength="17.6" lengthAdjust="spacingAndGlyphs" font-weight="bold" >D3*D4</text>
<text x="868.4" y="152.8" font-size="7.2" text-anchor="start" textLength="13" lengthAdjust="spacingAndGlyphs" font-weight="bold" font-family="'Liberation Sans','Noto Sans CJK SC',sans-serif">均布</text>
</g>
<!--RIGHT-->
</svg>
<!--/DRAWING-->

<div id="tbl">
<!--TABLE-->
<div class="hd" style="left:10.2px;top:490.2px;width:1154.6px;height:99.8px;"></div>
<div class="mint" style="left:150.7px;top:623.5px;width:1014.1px;height:33.0px;"></div>
<div class="mint" style="left:150.7px;top:690.0px;width:1014.1px;height:33.0px;"></div>
<div class="c h" style="left:10.2px;top:490.2px;width:140.5px;height:99.8px;padding-top:2.5px;padding-right:4px">型号</div>
<div class="c h" style="left:150.7px;top:490.2px;width:128.1px;height:59.1px;padding-top:2.5px">输入2000r/min<br>时的额定转矩</div>
<div class="c h" style="left:150.7px;top:549.3px;width:128.1px;height:40.7px;padding-top:2.5px">Nm</div>
<div class="c h" style="left:278.8px;top:490.2px;width:172.0px;height:59.1px;padding-top:2.5px">起动停止时的<br>容许峰值转矩</div>
<div class="c h" style="left:278.8px;top:549.3px;width:172.0px;height:40.7px;padding-top:2.5px">Nm</div>
<div class="c h" style="left:450.8px;top:490.2px;width:144.0px;height:59.1px;padding-top:2.5px">平均负载转矩的<br>容许最大值</div>
<div class="c h" style="left:450.8px;top:549.3px;width:144.0px;height:40.7px;padding-top:2.5px">Nm</div>
<div class="c h" style="left:594.8px;top:490.2px;width:118.7px;height:59.1px;padding-top:2.5px">瞬间容许<br>最大转矩</div>
<div class="c h" style="left:594.8px;top:549.3px;width:118.7px;height:40.7px;padding-top:2.5px">Nm</div>
<div class="c h" style="left:713.5px;top:490.2px;width:119.2px;height:59.1px;padding-top:2.5px">容许最高输入<br>转速r/min</div>
<div class="c h" style="left:713.5px;top:549.3px;width:119.2px;height:40.7px;padding-top:5px">脂润滑</div>
<div class="c h" style="left:832.7px;top:490.2px;width:182.3px;height:59.1px;padding-top:2.5px">容许平均输入<br>转速r/min</div>
<div class="c h" style="left:832.7px;top:549.3px;width:182.3px;height:40.7px;padding-top:5px">脂润滑</div>
<div class="c h" style="left:1015.0px;top:490.2px;width:149.8px;height:59.1px;padding-top:4.5px;padding-left:4px">转动惯量</div>
<div class="h" style="left:1015.0px;top:549.3px;width:149.8px;height:40.7px;"><span class="uj">J</span><span class="ux">X10<sup>-4</sup> kgm<sup>-2</sup></span></div>
<div class="c" style="left:10.2px;top:590.0px;width:140.5px;height:166.0px;padding-top:0.8px">ZLSH-32-100-I</div>
<div class="c" style="left:150.7px;top:590.0px;width:128.1px;height:33.5px;padding-top:0.8px">137</div>
<div class="c" style="left:278.8px;top:590.0px;width:172.0px;height:33.5px;padding-top:0.8px">345</div>
<div class="c" style="left:450.8px;top:590.0px;width:144.0px;height:33.5px;padding-top:0.8px">238</div>
<div class="c" style="left:594.8px;top:590.0px;width:118.7px;height:33.5px;padding-top:0.8px">712</div>
<div class="c" style="left:713.5px;top:590.0px;width:119.2px;height:33.5px;padding-top:0.8px">4800</div>
<div class="c" style="left:832.7px;top:590.0px;width:182.3px;height:33.5px;padding-top:0.8px">3500</div>
<div class="c" style="left:1015.0px;top:590.0px;width:149.8px;height:33.5px;padding-top:0.8px">1.22</div>
<div class="c" style="left:150.7px;top:623.5px;width:128.1px;height:33.0px;padding-top:2.3px">起动转矩</div>
<div class="c" style="left:278.8px;top:623.5px;width:172.0px;height:33.0px;padding-top:2.3px">增速起动转矩</div>
<div class="c" style="left:450.8px;top:623.5px;width:144.0px;height:33.0px;padding-top:0.8px">D1*D2</div>
<div class="c" style="left:594.8px;top:623.5px;width:118.7px;height:33.0px;padding-top:0.8px">J1</div>
<div class="c" style="left:713.5px;top:623.5px;width:301.5px;height:33.0px;padding-top:2.3px">A侧螺栓拧紧扭矩(Nm)</div>
<div class="c" style="left:1015.0px;top:623.5px;width:149.8px;height:33.0px;padding-top:0.8px">D3*D4</div>
<div class="c" style="left:150.7px;top:656.5px;width:128.1px;height:33.5px;padding-top:0.8px">27</div>
<div class="c" style="left:278.8px;top:656.5px;width:172.0px;height:33.5px;padding-top:0.8px">33</div>
<div class="c" style="left:450.8px;top:656.5px;width:144.0px;height:33.5px;padding-top:0.8px">12*M5</div>
<div class="c" style="left:594.8px;top:656.5px;width:118.7px;height:33.5px;padding-top:0.8px">Φ132</div>
<div class="c" style="left:713.5px;top:656.5px;width:119.2px;height:33.5px;padding-top:0.8px">9</div>
<div class="c" style="left:832.7px;top:656.5px;width:182.3px;height:33.5px;padding-top:0.8px">892</div>
<div class="c" style="left:1015.0px;top:656.5px;width:149.8px;height:33.5px;padding-top:0.8px">16*M5</div>
<div class="c" style="left:150.7px;top:690.0px;width:128.1px;height:33.0px;padding-top:0.8px">J2</div>
<div class="c" style="left:278.8px;top:690.0px;width:316.0px;height:33.0px;padding-top:2.3px">B侧螺栓拧紧扭矩(Nm)</div>
<div class="c" style="left:150.7px;top:723.0px;width:128.1px;height:33.0px;padding-top:0.8px">Φ100</div>
<div class="c" style="left:278.8px;top:723.0px;width:172.0px;height:33.0px;padding-top:0.8px">9</div>
<div class="c" style="left:450.8px;top:723.0px;width:144.0px;height:33.0px;padding-top:0.8px">902</div>
<div class="hl" style="left:150.7px;top:623.0px;width:1014.1px;height:1.0px;"></div>
<div class="hl" style="left:150.7px;top:656.0px;width:1014.1px;height:1.0px;"></div>
<div class="hl" style="left:150.7px;top:689.5px;width:1014.1px;height:1.0px;"></div>
<div class="hl" style="left:150.7px;top:722.5px;width:1014.1px;height:1.0px;"></div>
<div class="hl" style="left:10.2px;top:755.5px;width:1154.6px;height:1.0px;background:#c4c4c4"></div>
<div class="vl" style="left:150.2px;top:590.0px;width:1.0px;height:166.0px;"></div>
<div class="vl" style="left:278.3px;top:590.0px;width:1.0px;height:166.0px;"></div>
<div class="vl" style="left:450.3px;top:590.0px;width:1.0px;height:100.0px;"></div>
<div class="vl" style="left:450.3px;top:723.0px;width:1.0px;height:33.0px;"></div>
<div class="vl" style="left:594.3px;top:590.0px;width:1.0px;height:166.0px;"></div>
<div class="vl" style="left:713.0px;top:590.0px;width:1.0px;height:166.0px;"></div>
<div class="vl" style="left:832.2px;top:590.0px;width:1.0px;height:33.5px;"></div>
<div class="vl" style="left:832.2px;top:656.5px;width:1.0px;height:99.5px;"></div>
<div class="vl" style="left:1014.5px;top:590.0px;width:1.0px;height:166.0px;"></div>
<div class="vh" style="left:150.2px;top:490.2px;width:1.0px;height:99.8px;"></div>
<div class="vh" style="left:278.3px;top:490.2px;width:1.0px;height:99.8px;"></div>
<div class="vh" style="left:450.3px;top:490.2px;width:1.0px;height:99.8px;"></div>
<div class="vh" style="left:594.3px;top:490.2px;width:1.0px;height:99.8px;"></div>
<div class="vh" style="left:713.0px;top:490.2px;width:1.0px;height:99.8px;"></div>
<div class="vh" style="left:832.2px;top:490.2px;width:1.0px;height:99.8px;"></div>
<div class="vh" style="left:1014.5px;top:490.2px;width:1.0px;height:99.8px;"></div>
<div class="hh" style="left:150.7px;top:548.8px;width:1014.1px;height:1.0px;"></div>
<!--/TABLE-->
</div>
</body>
</html>
